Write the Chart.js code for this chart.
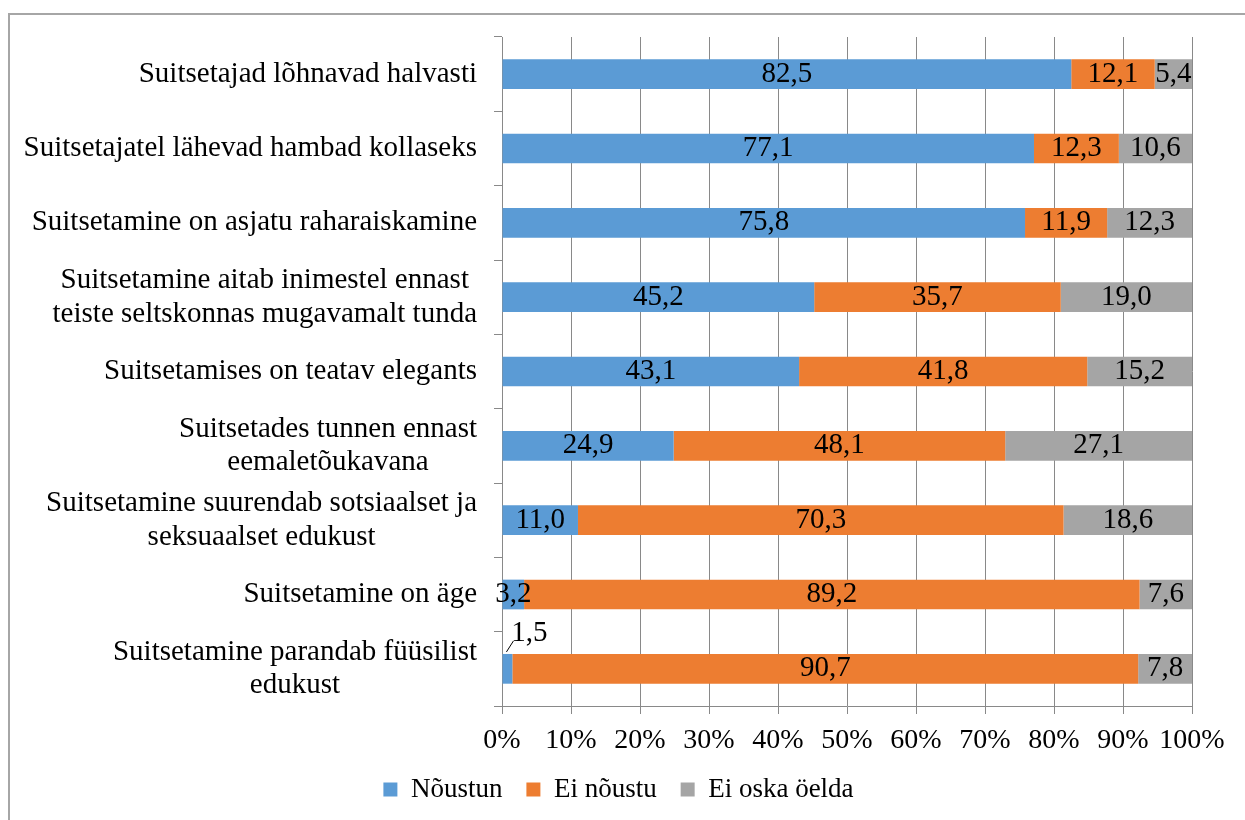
<!DOCTYPE html>
<html lang="et">
<head>
<meta charset="utf-8">
<title>Suhtumine suitsetamisse</title>
<script src="https://cdn.jsdelivr.net/npm/chart.js@4.4.1/dist/chart.umd.min.js"></script>
<style>
  html, body { margin: 0; padding: 0; background: #fff; }
  #wrap { position: relative; width: 1245px; height: 820px; overflow: hidden; }
  #frame { position: absolute; left: 8px; top: 13px; width: 1300px; height: 900px;
           border-top: 2px solid #a6a6a6; border-left: 2px solid #a6a6a6; }
  canvas { position: absolute; left: 0; top: 0; }
</style>
</head>
<body>
<div id="wrap">
  <div id="frame"></div>
  <canvas id="attitudeChart" width="1245" height="820"></canvas>
</div>
<script>
// ===== Data =====
const statements = [
    'Suitsetajad lõhnavad halvasti',
    'Suitsetajatel lähevad hambad kollaseks',
    'Suitsetamine on asjatu raharaiskamine',
    ['Suitsetamine aitab inimestel ennast', 'teiste seltskonnas mugavamalt tunda'],
    'Suitsetamises on teatav elegants',
    ['Suitsetades tunnen ennast', 'eemaletõukavana'],
    ['Suitsetamine suurendab sotsiaalset ja', 'seksuaalset edukust'],
    'Suitsetamine on äge',
    ['Suitsetamine parandab füüsilist', 'edukust']
];
const seriesNames = ['Nõustun', 'Ei nõustu', 'Ei oska öelda'];
const agree    = [82.5, 77.1, 75.8, 45.2, 43.1, 24.9, 11.0, 3.2, 1.5];
const disagree = [12.1, 12.3, 11.9, 35.7, 41.8, 48.1, 70.3, 89.2, 90.7];
const unsure   = [5.4, 10.6, 12.3, 19.0, 15.2, 27.1, 18.6, 7.6, 7.8];
const seriesColors = ['#5b9bd5', '#ed7d31', '#a5a5a5'];

const rawSeries = [agree, disagree, unsure];
const FONT = '"Liberation Serif", "Times New Roman", serif';
const FONT_SIZE = 29;
const LEGEND_SIZE = 27;
const GRID = '#898989';

// 100% stacked: each row scaled to its own total
const rowTotals = statements.map((_, i) => agree[i] + disagree[i] + unsure[i]);
const fmt = v => v.toFixed(1).replace('.', ',');

// ===== Plugins =====
// category labels: block right-aligned at the axis, lines centred inside the block
const wrappedTicks = {
    id: 'wrappedTicks',
    afterDraw(chart) {
        const scale = chart.scales.y;
        const ctx = chart.ctx;
        const lineH = 33.5;
        const right = scale.right - scale.options.grid.tickLength - scale.options.ticks.padding;
        ctx.save();
        ctx.font = FONT_SIZE + 'px ' + FONT;
        ctx.fillStyle = '#000';
        ctx.textAlign = 'center';
        ctx.textBaseline = 'middle';
        statements.forEach((label, i) => {
            const lines = [].concat(label);
            const w = Math.max(...lines.map(l => ctx.measureText(l).width));
            const cx = right - w / 2;
            const cy = scale.getPixelForValue(i);
            lines.forEach((l, j) => ctx.fillText(l, cx, cy + (j - (lines.length - 1) / 2) * lineH));
        });
        ctx.restore();
    }
};

// value labels in the middle of each segment, tiny ones pulled out with a leader line
const barLabels = {
    id: 'barLabels',
    afterDatasetsDraw(chart) {
        const ctx = chart.ctx;
        ctx.save();
        ctx.font = FONT_SIZE + 'px ' + FONT;
        ctx.fillStyle = '#000';
        ctx.strokeStyle = '#000';
        ctx.lineWidth = 1;
        ctx.textAlign = 'center';
        ctx.textBaseline = 'middle';
        chart.data.datasets.forEach((ds, di) => {
            chart.getDatasetMeta(di).data.forEach((bar, i) => {
                const raw = rawSeries[di][i];
                const {x, base, y, height} = bar.getProps(['x', 'base', 'y', 'height'], true);
                const mid = (x + base) / 2;
                if (raw < 2) {
                    const top = y - height / 2;
                    ctx.beginPath();
                    ctx.moveTo(mid - 1, top - 2);
                    ctx.lineTo(mid + 6, top - 13);
                    ctx.stroke();
                    ctx.fillText(fmt(raw), mid + 22, top - 21);
                } else {
                    ctx.fillText(fmt(raw), mid, y);
                }
            });
        });
        ctx.restore();
    }
};

// ===== Chart =====
const ctx = document.getElementById('attitudeChart').getContext('2d');
new Chart(ctx, {
    type: 'bar',
    data: {
        labels: statements,
        datasets: rawSeries.map((vals, k) => ({
            label: seriesNames[k],
            data: vals.map((v, i) => v / rowTotals[i] * 100),
            backgroundColor: seriesColors[k],
            borderWidth: 0,
            barPercentage: 0.4,
            categoryPercentage: 1
        }))
    },
    options: {
        indexAxis: 'y',
        responsive: false,
        animation: false,
        layout: { padding: { left: 45, right: 53, top: 37, bottom: 7 } },
        scales: {
            x: {
                stacked: true,
                min: 0,
                max: 100,
                grid: { color: GRID, tickLength: 8 },
                border: { color: GRID },
                ticks: {
                    stepSize: 10,
                    autoSkip: false,
                    maxRotation: 0,
                    padding: 10,
                    color: '#000',
                    font: { family: FONT, size: 28 },
                    callback: v => v + '%'
                },
                afterFit(scale) { scale.height = 46; }
            },
            y: {
                stacked: true,
                grid: { drawOnChartArea: false, color: GRID, tickLength: 8, offset: true },
                border: { color: GRID },
                // labels are drawn by the wrappedTicks plugin
                ticks: { display: false, padding: 17 },
                afterFit(scale) { scale.width = 457; }
            }
        },
        plugins: {
            legend: {
                position: 'bottom',
                labels: {
                    boxWidth: 14,
                    boxHeight: 14,
                    padding: 24,
                    color: '#000',
                    font: { family: FONT, size: LEGEND_SIZE }
                }
            },
            tooltip: { enabled: false }
        }
    },
    plugins: [wrappedTicks, barLabels]
});
</script>
</body>
</html>
